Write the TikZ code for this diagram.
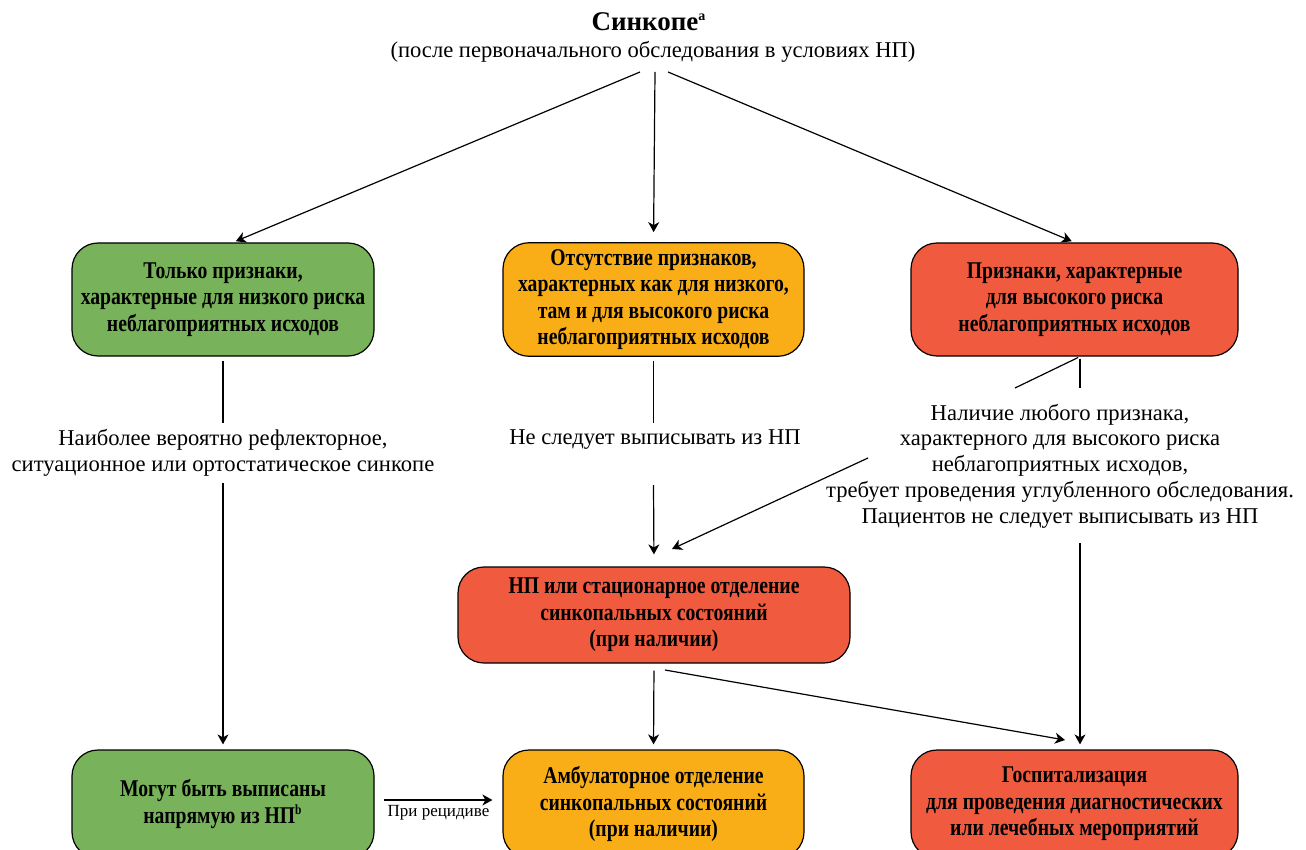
\documentclass[tikz,border=0pt]{standalone}
\usepackage{fontspec}
\setmainfont{Liberation Serif}
\newfontfamily\boxfont[FakeStretch=0.82]{Liberation Serif}
\usepackage{tikz}
\usetikzlibrary{arrows.meta,calc}
\definecolor{lowgreen}{RGB}{120,178,90}
\definecolor{midorange}{RGB}{249,174,23}
\definecolor{highred}{RGB}{240,91,64}

\begin{document}
\begin{tikzpicture}[x=0.5pt,y=-0.5pt,
  box/.style={draw,line width=0.6pt,rounded corners=13pt,align=center,inner xsep=2pt,
    font=\boxfont\bfseries\fontsize{12}{13.2}\selectfont},
  note/.style={align=center,font=\fontsize{11.3}{12.9}\selectfont}]
\useasboundingbox (0,0) rectangle (1306,850);
\node[font=\bfseries\fontsize{13.5}{15}\selectfont] (S) at (649,22) {Синкопе\textsuperscript{\fontsize{7}{8}\selectfont a}};
\node[note] (S') at (653,52) {(после первоначального обследования в условиях НП)};
\node[box,fill=lowgreen,minimum width=151pt,minimum height=56.5pt] (L) at (223,299.5) {Только признаки,\\характерные для низкого риска\\неблагоприятных исходов};
\node[box,fill=midorange,minimum width=150.5pt,minimum height=56.5pt] (M) at (653.5,299.5) {Отсутствие признаков,\\характерных как для низкого,\\там и для высокого риска\\неблагоприятных исходов};
\node[box,fill=highred,minimum width=163.5pt,minimum height=56.5pt] (R) at (1074.5,299.5) {Признаки, характерные\\для высокого риска\\неблагоприятных исходов};
\node[note] (T1) at (223,453) {Наиболее вероятно рефлекторное,\\ситуационное или ортостатическое синкопе};
\node[note] (T2) at (655,440) {Не следует выписывать из НП};
\node[note] (T3) at (1060,466) {Наличие любого признака,\\характерного для высокого риска\\неблагоприятных исходов,\\требует проведения углубленного обследования.\\Пациентов не следует выписывать из НП};
\node[box,fill=highred,minimum width=196pt,minimum height=48pt] (N) at (654,615) {НП или стационарное отделение\\синкопальных состояний\\(при наличии)};
\node[box,fill=lowgreen,minimum width=151pt,minimum height=54pt] (L') at (223,804) {Могут быть выписаны\\напрямую из НП\textsuperscript{\fontsize{7}{8}\selectfont b}};
\node[box,fill=midorange,minimum width=150.5pt,minimum height=54pt] (M') at (653.5,804) {Амбулаторное отделение\\синкопальных состояний\\(при наличии)};
\node[box,fill=highred,minimum width=163.5pt,minimum height=54pt] (R') at (1074.5,804) {Госпитализация\\для проведения диагностических\\или лечебных мероприятий};
\coordinate (s1) at (640,72);
\coordinate (s2) at (655,72);
\coordinate (s3) at (668,72);
\coordinate (a1) at (223,423);
\coordinate (a2) at (223,483);
\coordinate (b1) at (653.5,423);
\coordinate (b2) at (653.5,485);
\coordinate (c1) at (1080,388);
\coordinate (c2) at (1080,543);
\coordinate (d1) at (1015,388);
\coordinate (d2) at (868,458);
\coordinate (d3) at (672,549);
\coordinate (e1) at (665,670);
\coordinate (e2) at (1065,740);
\path[->,line width=0.6pt,>={Stealth[length=5pt,width=5.5pt,inset=1.5pt]}]
(s1) edge[shorten >=1.5pt] ([xshift=5pt]L.north)
(s2) edge[shorten >=5pt] (M.north)
(s3) edge[shorten >=1.5pt] (R.north)
(L.south) edge[-,shorten <=2pt] (a1)
(a2) edge[shorten >=2.5pt] (L'.north)
(M.south) edge[-,shorten <=2pt] (b1)
(b2) edge[shorten >=6pt] (N.north)
(R.south -| c1) edge[-,shorten <=1pt] (c1)
(R.south -| c1) edge[-,shorten <=1pt] (d1)
(d2) edge (d3)
(c2) edge[shorten >=2.5pt] (R'.north -| c2)
(N.south) edge[shorten <=3.5pt,shorten >=2.5pt] (M'.north)
(e1) edge (e2)
([yshift=2pt]L'.east) edge[shorten <=4.5pt,shorten >=5pt] node[below=-1pt,font=\fontsize{8.5}{10}\selectfont]{При рецидиве} ([yshift=2pt]M'.west);
\end{tikzpicture}
\end{document}
